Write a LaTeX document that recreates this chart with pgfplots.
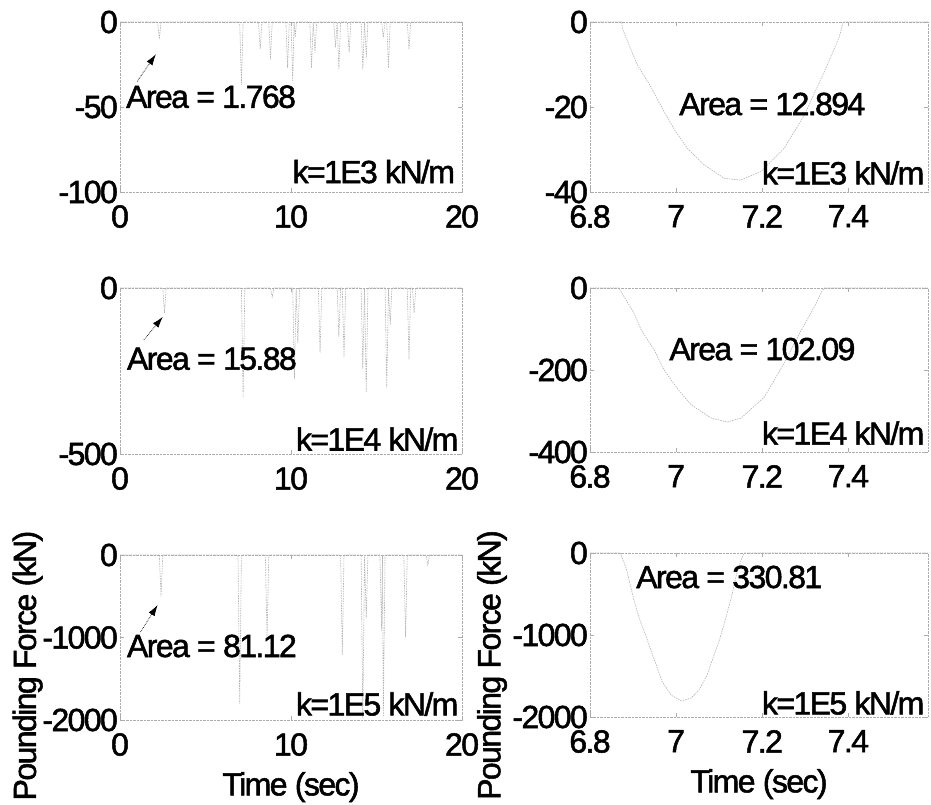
\documentclass[border=0pt]{standalone}
\usepackage{pgfplots}
\pgfplotsset{compat=1.18}
\usepackage{fontspec}
\setmainfont{Liberation Sans}[LetterSpace=-5, FakeBold=1.6]
\usetikzlibrary{arrows.meta}
\tikzset{
  arr/.style={black, line width=0.7pt, densely dotted, -{Latex[length=11pt,width=7pt]}},
  dat/.style={gray!60, line width=0.6pt, dash pattern=on 1.5pt off 1pt},
}
\newcommand\bigf{\fontsize{32}{34}\selectfont}
\pgfplotsset{
  panel/.style={
    scale only axis, clip=false,
    anchor=north west,
    axis line style={gray!65, densely dotted},
    tick style={gray!65, thin},
    tick align=inside, major tick length=4pt,
    minor tick num=0,
    font=\bigf,
    /pgf/number format/assume math mode=true,
    /pgf/number format/1000 sep={},
    yticklabel style={inner sep=2pt, font=\bigf},
    xticklabel style={inner sep=2pt, yshift=-11pt, font=\bigf},
    scaled ticks=false,
  },
  leftp/.style={panel, width=342pt, xmin=0, xmax=20, xtick={0,10,20}},
  rightp/.style={panel, width=338pt, xmin=6.8, xmax=7.585, xtick={6.8,7,7.2,7.4}},
}
\begin{document}
\begin{tikzpicture}
\useasboundingbox (0,0) rectangle (931pt,-805pt);
\bigf
% ---------- row 1 left
\begin{axis}[leftp, at={(120pt,-22pt)}, height=170pt, ymin=-100, ymax=0, ytick={-100,-50,0}]
\addplot[dat] coordinates {(0,0) (2.2,0) (2.3,-10) (2.4,0) (7.0,0) (7.1,-37) (7.2,0) (8.1,0) (8.2,-16) (8.3,0) (8.7,0) (8.8,-22) (8.9,0) (9.7,0) (9.8,-27) (9.9,0) (10.0,0) (10.1,-35) (10.18,0) (10.25,-9) (10.32,0) (11.1,0) (11.2,-27) (11.3,0) (11.4,-18) (11.5,0) (12.5,0) (12.6,-15) (12.7,0) (12.8,-28) (12.9,0) (13.3,0) (13.4,-18) (13.5,0) (14.1,0) (14.2,-28) (14.3,0) (14.4,-21) (14.5,0) (15.3,0) (15.4,-9) (15.5,0) (15.6,0) (15.7,-27) (15.8,0) (16.8,0) (16.9,-16) (17.0,0) (20,0)};
\draw[arr] (axis cs:1.0,-35) -- (axis cs:2.1,-19);
\node[anchor=west, inner sep=0] at (axis cs:0.35,-44) {Area = 1.768};
\node[anchor=east, inner sep=0] at (axis cs:19.6,-88) {k=1E3 kN/m};
\end{axis}
% ---------- row 1 right
\begin{axis}[rightp, at={(590pt,-22pt)}, height=170pt, ymin=-40, ymax=0, ytick={-40,-20,0}]
\addplot[dat] coordinates {(6.8,0) (6.874,0) (6.875,-1.5) (6.91,-10.1) (6.941,-15.2) (6.972,-21.1) (6.999,-25.8) (7.026,-29.7) (7.065,-33.6) (7.112,-36.8) (7.15,-37.2) (7.197,-35.2) (7.251,-29.7) (7.298,-21.9) (7.344,-11.7) (7.379,-3.5) (7.388,0) (7.585,0)};
\node[anchor=west, inner sep=0] at (axis cs:7.007,-19.3) {Area = 12.894};
\node[anchor=east, inner sep=0] at (axis cs:7.577,-35.5) {k=1E3 kN/m};
\end{axis}
% ---------- row 2 left
\begin{axis}[leftp, at={(120pt,-288pt)}, height=166pt, ymin=-500, ymax=0, ytick={-500,0}]
\addplot[dat] coordinates {(0,0) (2.5,0) (2.6,-75) (2.7,0) (7.1,0) (7.2,-329) (7.3,0) (8.8,0) (8.9,-27) (9.0,0) (10.1,0) (10.2,-275) (10.3,0) (10.4,-165) (10.5,0) (11.6,0) (11.7,-195) (11.8,0) (12.7,0) (12.8,-147) (12.9,0) (13.0,0) (13.1,-207) (13.2,0) (14.1,0) (14.2,-245) (14.3,0) (14.4,-315) (14.5,0) (15.5,0) (15.6,-300) (15.7,0) (15.8,-111) (15.9,0) (16.8,0) (16.9,-215) (17.0,0) (17.1,0) (17.2,-75) (17.3,0) (20,0)};
\draw[arr] (axis cs:1.4,-156) -- (axis cs:2.5,-87);
\node[anchor=west, inner sep=0] at (axis cs:0.4,-213) {Area = 15.88};
\node[anchor=east, inner sep=0] at (axis cs:19.8,-455) {k=1E4 kN/m};
\end{axis}
% ---------- row 2 right
\begin{axis}[rightp, at={(590pt,-288pt)}, height=164pt, ymin=-400, ymax=0, ytick={-400,-200,0}]
\addplot[dat] coordinates {(6.8,0) (6.867,0) (6.902,-61) (6.919,-102) (6.949,-151) (6.972,-200) (7.002,-244) (7.035,-285) (7.081,-317) (7.119,-327) (7.151,-317) (7.205,-266) (7.251,-183) (7.291,-102) (7.321,-46) (7.34,-5) (7.345,0) (7.585,0)};
\node[anchor=west, inner sep=0] at (axis cs:6.984,-149) {Area = 102.09};
\node[anchor=east, inner sep=0] at (axis cs:7.577,-354) {k=1E4 kN/m};
\end{axis}
% ---------- row 3 left
\begin{axis}[leftp, at={(120pt,-555pt)}, height=165pt, ymin=-2000, ymax=0, ytick={-2000,-1000,0}]
\addplot[dat] coordinates {(0,0) (2.3,0) (2.4,-500) (2.5,0) (6.9,0) (7.0,-1800) (7.1,0) (8.5,0) (8.6,-1000) (8.7,0) (12.9,0) (13.0,-1210) (13.1,0) (14.1,0) (14.2,-1980) (14.3,0) (14.4,-760) (14.5,0) (15.2,0) (15.3,-920) (15.35,0) (15.4,-1960) (15.5,0) (16.6,0) (16.7,-1000) (16.8,0) (17.9,0) (18.0,-120) (18.1,0) (20,0)};
\draw[arr] (axis cs:1.2,-933) -- (axis cs:2.2,-606);
\node[anchor=west, inner sep=0] at (axis cs:0.4,-1103) {Area = 81.12};
\node[anchor=east, inner sep=0] at (axis cs:19.8,-1806) {k=1E5 kN/m};
\node[anchor=north, inner sep=0] at (rel axis cs:0.5,0) [yshift=-52pt] {Time (sec)};
\node[rotate=90, inner sep=0] at (rel axis cs:-0.27,0.33) {Pounding Force (kN)};
\end{axis}
% ---------- row 3 right
\begin{axis}[rightp, at={(590pt,-553pt)}, height=164pt, ymin=-2000, ymax=0, ytick={-2000,-1000,0}]
\addplot[dat] coordinates {(6.8,0) (6.87,0) (6.884,-183) (6.902,-573) (6.914,-793) (6.93,-1012) (6.942,-1195) (6.967,-1561) (6.988,-1732) (7.012,-1805) (7.035,-1768) (7.053,-1671) (7.072,-1488) (7.088,-1244) (7.1,-1073) (7.112,-854) (7.128,-549) (7.14,-268) (7.151,-85) (7.158,0) (7.585,0)};
\node[anchor=west, inner sep=0] at (axis cs:6.907,-293) {Area = 330.81};
\node[anchor=east, inner sep=0] at (axis cs:7.577,-1829) {k=1E5 kN/m};
\node[anchor=north, inner sep=0] at (rel axis cs:0.5,0) [yshift=-52pt] {Time (sec)};
\node[rotate=90, inner sep=0] at (rel axis cs:-0.29,0.317) {Pounding Force (kN)};
\end{axis}
\end{tikzpicture}
\end{document}
